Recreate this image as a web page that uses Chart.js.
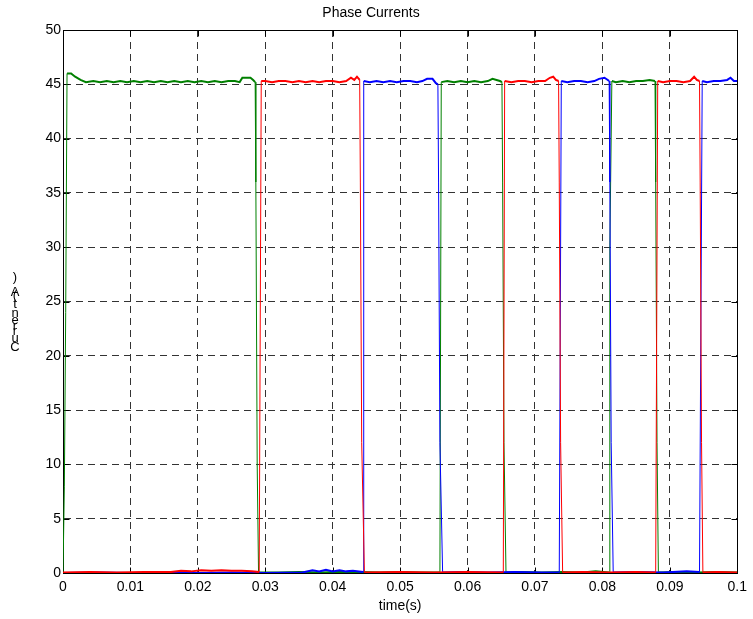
<!DOCTYPE html>
<html>
<head>
<meta charset="utf-8">
<title>Phase Currents</title>
<script src="https://cdn.jsdelivr.net/npm/chart.js@4.4.1/dist/chart.umd.min.js"></script>
<style>
  html, body { margin: 0; padding: 0; background: #fff; }
  #wrap { width: 753px; height: 619px; position: relative; }
</style>
</head>
<body>
<div id="wrap"><canvas id="phaseChart"></canvas></div>
<script>
// x ticks (s) and their labels
const xTicks = [0, 0.01, 0.02, 0.03, 0.04, 0.05, 0.06, 0.07, 0.08, 0.09, 0.1];
const xTickLabels = ['0', '0.01', '0.02', '0.03', '0.04', '0.05', '0.06', '0.07', '0.08', '0.09', '0.1'];

// phase currents as [time (s), current (A)]
const currentGreen = [
    [0, 0], [0.0002, 8], [0.0004, 24], [0.0006, 46.0], [0.0012, 46.0], [0.0018, 45.7], [0.0026, 45.4], [0.0034, 45.2],
    [0.0045, 45.3], [0.0055, 45.2], [0.0065, 45.3], [0.0075, 45.2], [0.0085, 45.3], [0.0095, 45.2], [0.0105, 45.3],
    [0.0115, 45.2], [0.0125, 45.3], [0.0135, 45.2], [0.0145, 45.3], [0.0155, 45.2], [0.0165, 45.3], [0.0175, 45.2],
    [0.0185, 45.3], [0.0195, 45.2], [0.0205, 45.3], [0.0215, 45.2], [0.0225, 45.3], [0.0235, 45.2], [0.0245, 45.3],
    [0.0255, 45.3], [0.0262, 45.2], [0.0266, 45.6], [0.0278, 45.6], [0.0282, 45.4], [0.0285, 45.2],
    [0.0286, 36], [0.0288, 10], [0.0290, 0.05],
    [0.0320, 0.05], [0.0350, 0.1], [0.0380, 0.05], [0.0410, 0.1], [0.0440, 0.1], [0.0470, 0.05], [0.0500, 0.1],
    [0.0530, 0.05], [0.0559, 0.05],
    [0.0561, 45.2], [0.0570, 45.3], [0.0580, 45.2], [0.0590, 45.3], [0.0600, 45.2], [0.0610, 45.3], [0.0620, 45.2],
    [0.0630, 45.3], [0.0637, 45.5], [0.0643, 45.4], [0.0648, 45.3], [0.0651, 45.2],
    [0.0652, 36], [0.0654, 12], [0.0657, 0.05],
    [0.0680, 0.1], [0.0710, 0.05], [0.0740, 0.1], [0.0770, 0.05], [0.0790, 0.15], [0.0810, 0.05],
    [0.0811, 30], [0.0814, 45.3], [0.0820, 45.2], [0.0830, 45.3], [0.0840, 45.2], [0.0850, 45.3], [0.0860, 45.3],
    [0.0870, 45.4], [0.0878, 45.3],
    [0.0879, 36], [0.0881, 12], [0.0883, 0.05],
    [0.0910, 0.1], [0.0940, 0.05], [0.0970, 0.1], [0.1000, 0.05]
];

const currentRed = [
    [0, 0.05], [0.004, 0.1], [0.008, 0.05], [0.012, 0.1], [0.016, 0.1], [0.0175, 0.2], [0.019, 0.15], [0.0205, 0.25],
    [0.022, 0.2], [0.0235, 0.25], [0.025, 0.2], [0.0265, 0.2], [0.028, 0.15], [0.0291, 0.1],
    [0.0294, 45.3], [0.030, 45.3], [0.031, 45.2], [0.032, 45.3], [0.033, 45.3], [0.034, 45.2], [0.035, 45.3],
    [0.036, 45.2], [0.037, 45.3], [0.038, 45.2], [0.039, 45.3], [0.040, 45.3], [0.041, 45.2], [0.042, 45.3],
    [0.0427, 45.6], [0.0432, 45.4], [0.0436, 45.7], [0.0440, 45.4],
    [0.0441, 36], [0.0443, 12], [0.0447, 0.05],
    [0.050, 0.1], [0.055, 0.05], [0.060, 0.1], [0.0653, 0.05],
    [0.0655, 45.3], [0.0665, 45.2], [0.0675, 45.3], [0.0685, 45.3], [0.0695, 45.2], [0.0705, 45.3], [0.0715, 45.3],
    [0.0722, 45.6], [0.0727, 45.7], [0.0731, 45.4], [0.0735, 45.3],
    [0.0736, 36], [0.0738, 12], [0.0741, 0.05],
    [0.077, 0.1], [0.081, 0.05], [0.085, 0.1], [0.0879, 0.05],
    [0.0882, 45.3], [0.089, 45.2], [0.090, 45.3], [0.091, 45.3], [0.092, 45.2], [0.093, 45.3], [0.0936, 45.7],
    [0.0940, 45.4], [0.0944, 45.3],
    [0.0945, 36], [0.0947, 12], [0.0949, 0.05],
    [0.097, 0.1], [0.1, 0.05]
];

const currentBlue = [
    [0, 0], [0.005, 0.05], [0.010, 0], [0.015, 0.05], [0.020, 0], [0.025, 0.05], [0.030, 0], [0.0355, 0.05],
    [0.037, 0.25], [0.038, 0.15], [0.039, 0.3], [0.040, 0.15], [0.041, 0.25], [0.042, 0.15], [0.043, 0.2], [0.0445, 0.1],
    [0.0446, 45.3], [0.0455, 45.2], [0.0465, 45.3], [0.0475, 45.2], [0.0485, 45.3], [0.0495, 45.2], [0.0505, 45.3],
    [0.0515, 45.3], [0.0525, 45.2], [0.0533, 45.3], [0.0540, 45.5], [0.0548, 45.5], [0.0553, 45.1], [0.0556, 45.0],
    [0.0557, 36], [0.0559, 12], [0.0563, 0.05],
    [0.059, 0.1], [0.063, 0.05], [0.067, 0.1], [0.071, 0.05], [0.0736, 0.05],
    [0.0739, 45.3], [0.0748, 45.2], [0.0758, 45.3], [0.0768, 45.3], [0.0778, 45.2], [0.0788, 45.3], [0.0795, 45.5],
    [0.0803, 45.6], [0.0808, 45.4], [0.0810, 45.3],
    [0.0811, 36], [0.0813, 12], [0.0816, 0.05],
    [0.085, 0.1], [0.089, 0.05], [0.0925, 0.15], [0.0944, 0.1],
    [0.0948, 45.3], [0.0955, 45.2], [0.0965, 45.3], [0.0975, 45.3], [0.0985, 45.4], [0.099, 45.6], [0.0995, 45.3],
    [0.1, 45.3]
];

const FONT = '"Liberation Sans", Arial, sans-serif';

function toPoints(pairs) {
    return pairs.map(p => ({ x: p[0], y: p[1] }));
}

// switching edges are drawn thin, flat tops/bottoms a bit heavier
const segWidth = c => Math.abs(c.p1.parsed.y - c.p0.parsed.y) > 2 ? 1 : 2;

// box, inward ticks and the stacked y label
const frame = {
    id: 'frame',
    beforeDatasetsDraw(chart) {
        const { ctx, chartArea: a, scales: { x, y } } = chart;
        const L = Math.round(a.left) + 0.5, R = Math.round(a.right) + 0.5;
        const T = Math.round(a.top) + 0.5, B = Math.round(a.bottom) + 0.5;
        ctx.save();
        ctx.strokeStyle = '#000';
        ctx.lineWidth = 1;
        ctx.strokeRect(L, T, R - L, B - T);
        ctx.beginPath();
        xTicks.forEach(v => {
            const px = Math.round(x.getPixelForValue(v)) + 0.5;
            ctx.moveTo(px, B); ctx.lineTo(px, B - 6);
            ctx.moveTo(px, T); ctx.lineTo(px, T + 6);
        });
        y.ticks.forEach(t => {
            const py = Math.round(y.getPixelForValue(t.value)) + 0.5;
            ctx.moveTo(L, py); ctx.lineTo(L + 6, py);
            ctx.moveTo(R, py); ctx.lineTo(R - 6, py);
        });
        ctx.stroke();
        ctx.restore();
    },
    afterDraw(chart) {
        const ctx = chart.ctx;
        const chars = ['C', 'u', 'r', 'r', 'e', 'n', 't', '(', 'A', ')'];
        const ys = [347, 338, 331, 326, 320, 313, 304, 295, 292, 277];
        ctx.save();
        ctx.fillStyle = '#000';
        ctx.font = '13px ' + FONT;
        ctx.textAlign = 'center';
        ctx.textBaseline = 'middle';
        chars.forEach((ch, i) => ctx.fillText(ch, 15, ys[i]));
        ctx.restore();
    }
};

const ctx = document.getElementById('phaseChart').getContext('2d');
const chart = new Chart(ctx, {
    type: 'line',
    data: {
        datasets: [
            { label: 'red', data: toPoints(currentRed), borderColor: '#ff0000', order: 0 },
            { label: 'blue', data: toPoints(currentBlue), borderColor: '#0000ff', order: 1 },
            { label: 'green', data: toPoints(currentGreen), borderColor: '#008000', order: 2 }
        ]
    },
    options: {
        responsive: true,
        maintainAspectRatio: false,
        animation: false,
        parsing: false,
        elements: {
            point: { radius: 0 },
            line: { tension: 0, borderWidth: 1.5, borderJoinStyle: 'miter' }
        },
        datasets: {
            line: { segment: { borderWidth: segWidth } }
        },
        layout: { padding: { left: 0, right: 11, top: 0, bottom: 0 } },
        scales: {
            x: {
                type: 'linear',
                min: 0,
                max: 0.1,
                afterBuildTicks: s => { s.ticks = xTicks.map(v => ({ value: v })); },
                afterFit: s => { s.height = 46; },
                ticks: {
                    color: '#000',
                    font: { family: FONT, size: 14 },
                    padding: 6,
                    maxRotation: 0,
                    autoSkip: false,
                    callback: (v, i) => xTickLabels[i]
                },
                grid: { color: '#333', lineWidth: 1, drawTicks: false },
                border: { display: true, color: '#000', dash: [7, 5] },
                title: {
                    display: true,
                    text: 'time(s)',
                    color: '#000',
                    font: { family: FONT, size: 14 },
                    padding: { top: 0, bottom: 4 }
                }
            },
            y: {
                min: 0,
                max: 50,
                afterFit: s => { s.width = 63; },
                ticks: {
                    stepSize: 5,
                    color: '#000',
                    font: { family: FONT, size: 14 },
                    padding: 2
                },
                grid: { color: '#333', lineWidth: 1, drawTicks: false },
                border: { display: true, color: '#000', dash: [7, 5] }
            }
        },
        plugins: {
            legend: { display: false },
            tooltip: { enabled: false },
            title: {
                display: true,
                text: 'Phase Currents',
                color: '#000',
                font: { family: FONT, size: 14, weight: 'normal' },
                padding: { top: 4.6, bottom: 8.6 }
            }
        }
    },
    plugins: [frame]
});
</script>
</body>
</html>
